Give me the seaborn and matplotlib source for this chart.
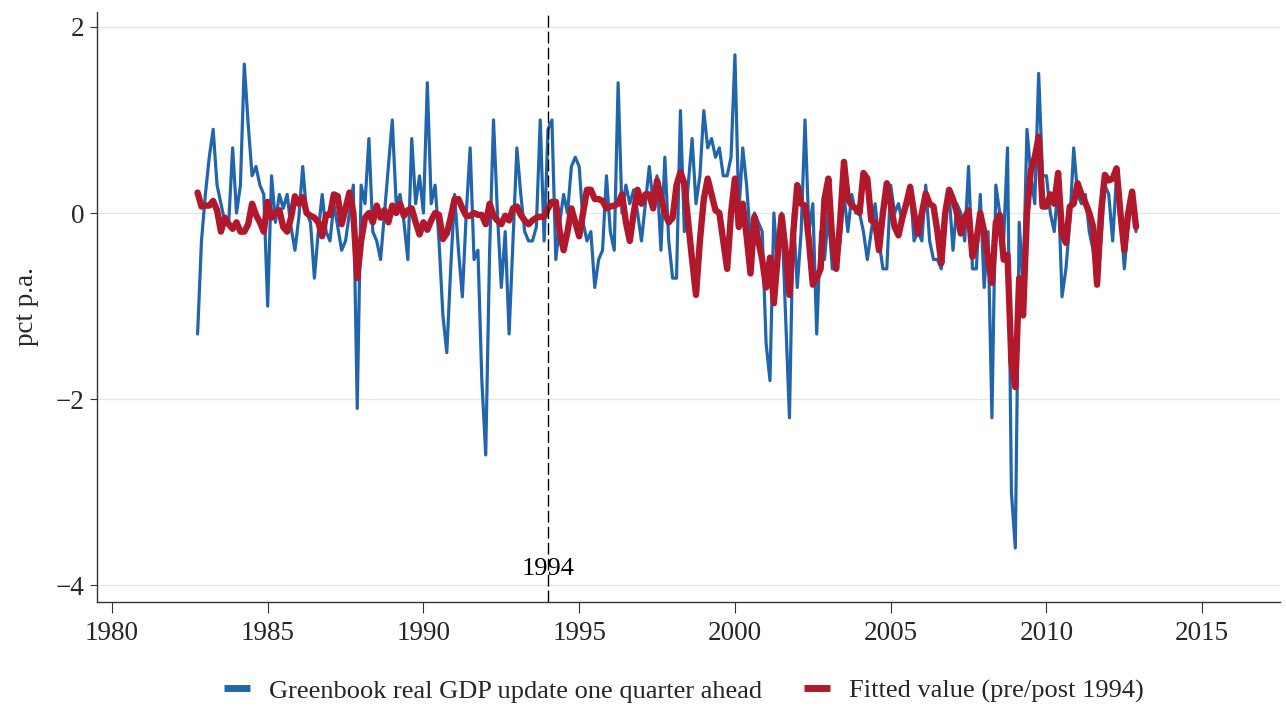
import numpy as np
import pandas as pd
import matplotlib
matplotlib.use("Agg")
import matplotlib.pyplot as plt
import seaborn as sns

# ---------------- data ----------------
start_year = 1982.75          # first Greenbook observation
per_year = 8                  # FOMC meetings per year

greenbook_update = [
    -1.3, -0.3, 0.2, 0.6, 0.9, 0.3, 0.1, -0.1, -0.1, 0.7,
    0.0, 0.3, 1.6, 0.95, 0.4, 0.5, 0.3, 0.2, -1.0, 0.4,
    -0.1, 0.2, 0.05, 0.2, -0.15, -0.4, -0.05, 0.5, 0.0, -0.1,
    -0.7, -0.2, 0.2, -0.2, -0.3, 0.1, -0.15, -0.4, -0.3, 0.0,
    0.3, -2.1, 0.3, 0.1, 0.8, -0.2, -0.3, -0.5, 0.0, 0.5,
    1.0, 0.1, 0.2, -0.1, -0.5, 0.8, 0.1, 0.4, 0.0, 1.4,
    0.1, 0.3, -0.3, -1.1, -1.5, -0.6, 0.2, -0.4, -0.9, 0.0,
    0.7, -0.5, -0.4, -1.8, -2.6, -0.4, 1.0, 0.0, -0.8, -0.2,
    -1.3, -0.3, 0.7, 0.2, -0.2, -0.3, -0.3, -0.15, 1.0, -0.3,
    0.9, 1.0, -0.5, -0.1, 0.2, 0.0, 0.5, 0.6, 0.5, -0.1,
    -0.3, -0.2, -0.8, -0.5, -0.4, 0.4, -0.2, -0.4, 1.4, 0.0,
    0.3, 0.1, 0.25, 0.0, -0.3, 0.1, 0.5, 0.1, 0.4, -0.4,
    0.6, -0.3, -0.7, -0.7, 1.1, -0.2, 0.3, 0.8, 0.1, 0.4,
    1.1, 0.7, 0.8, 0.6, 0.7, 0.4, 0.4, 0.6, 1.7, 0.0,
    0.7, 0.3, -0.3, 0.0, -0.1, -0.2, -1.4, -1.8, 0.0, -0.6,
    0.0, -1.1, -2.2, 0.0, -0.8, -0.2, 1.0, -0.2, 0.1, -1.3,
    -0.2, -0.5, 0.0, -0.6, -0.6, -0.3, 0.2, -0.2, 0.2, 0.0,
    0.0, -0.2, -0.5, -0.2, 0.1, -0.3, -0.6, -0.6, 0.3, 0.0,
    0.1, -0.1, 0.1, 0.3, -0.3, -0.2, -0.3, 0.3, -0.3, -0.5,
    -0.5, -0.6, 0.0, 0.2, -0.4, 0.1, 0.0, -0.3, 0.5, -0.6,
    -0.6, 0.2, -0.8, -0.2, -2.2, 0.3, 0.0, -0.3, 0.7, -3.0,
    -3.6, -0.1, -0.8, 0.9, 0.4, 0.1, 1.5, 0.4, 0.4, 0.0,
    -0.2, 0.3, -0.9, -0.6, -0.1, 0.7, 0.2, 0.1, 0.2, -0.2,
    -0.4, -0.7, -0.3, 0.3, 0.2, -0.3, 0.4, 0.0, -0.6, -0.1,
    0.2, -0.2,
]

fitted_value = [
    0.22, 0.07, 0.08, 0.08, 0.13, 0.03, -0.2, -0.05, -0.12, -0.17,
    -0.1, -0.2, -0.2, -0.12, 0.1, -0.02, -0.1, -0.2, 0.12, -0.05,
    0.0, 0.03, -0.15, -0.2, -0.05, 0.18, 0.1, 0.17, 0.0, -0.03,
    -0.05, -0.1, -0.25, -0.02, -0.02, 0.2, 0.18, -0.12, 0.05, 0.22,
    0.0, -0.7, -0.3, -0.05, 0.0, -0.1, 0.08, -0.05, 0.03, -0.1,
    0.08, 0.0, 0.1, -0.03, 0.03, 0.05, -0.1, -0.23, -0.1, -0.18,
    -0.08, 0.0, -0.02, -0.28, -0.22, -0.05, 0.15, 0.15, 0.05, -0.03,
    -0.03, 0.0, -0.02, -0.02, -0.12, 0.1, -0.03, -0.08, -0.12, -0.03,
    -0.08, 0.05, 0.07, -0.02, -0.08, -0.12, -0.08, -0.05, -0.04, -0.04,
    0.05, 0.12, 0.12, -0.2, -0.4, -0.2, 0.05, -0.1, -0.25, 0.0,
    0.25, 0.25, 0.15, 0.15, 0.13, 0.05, 0.07, 0.08, 0.1, 0.2,
    -0.1, -0.3, 0.0, 0.25, 0.1, 0.2, 0.2, 0.05, 0.35, 0.17,
    0.0, -0.1, -0.05, 0.3, 0.44, 0.32, -0.1, -0.5, -0.88, -0.3,
    0.15, 0.37, 0.2, 0.03, 0.0, -0.3, -0.6, 0.0, 0.37, -0.15,
    0.1, -0.25, -0.65, -0.04, -0.3, -0.5, -0.8, -0.48, -0.97, -0.45,
    -0.03, -0.4, -0.88, -0.2, 0.3, 0.1, 0.08, -0.3, -0.77, -0.7,
    -0.6, 0.15, 0.37, -0.3, -0.6, -0.1, 0.55, 0.15, 0.08, 0.05,
    0.0, 0.43, 0.37, -0.08, -0.1, -0.4, 0.0, 0.32, 0.1, -0.15,
    -0.24, -0.05, 0.1, 0.28, 0.0, -0.22, 0.0, 0.21, 0.1, 0.07,
    -0.2, -0.54, 0.0, 0.25, 0.15, 0.0, -0.22, -0.05, 0.03, -0.47,
    -0.3, 0.0, -0.2, -0.5, -0.75, -0.1, -0.02, -0.5, -0.45, -1.6,
    -1.87, -0.7, -1.1, 0.0, 0.46, 0.6, 0.82, 0.07, 0.07, 0.2,
    0.1, 0.43, -0.22, -0.32, 0.07, 0.1, 0.32, 0.2, 0.11, 0.0,
    -0.15, -0.77, 0.0, 0.41, 0.35, 0.37, 0.48, 0.0, -0.4, 0.0,
    0.23, -0.15,
]

break_year = 1994
x_ticks = [1980, 1985, 1990, 1995, 2000, 2005, 2010, 2015]
y_ticks = [-4, -2, 0, 2]
label_blue = "Greenbook real GDP update one quarter ahead"
label_red = "Fitted value (pre/post 1994)"
y_label = "pct p.a."

# ---------------- frame ----------------
df_blue = pd.DataFrame({"date": start_year + np.arange(len(greenbook_update)) / per_year,
                        "value": greenbook_update})
df_red = pd.DataFrame({"date": start_year + np.arange(len(fitted_value)) / per_year,
                       "value": fitted_value})

sns.set_theme(style="white")
plt.rcParams["font.family"] = ["Liberation Serif", "DejaVu Serif"]
plt.rcParams["axes.unicode_minus"] = True

fig = plt.figure(figsize=(12.86, 7.07), dpi=100)
ax = fig.add_axes([0.0754, 0.1485, 0.9200, 0.8345])

blue = "#2166ac"
red = "#b2182b"

sns.lineplot(data=df_blue, x="date", y="value", ax=ax, color=blue, lw=2.3,
             label=label_blue, zorder=3)
sns.lineplot(data=df_red, x="date", y="value", ax=ax, color=red, lw=4.6,
             label=label_red, zorder=4, solid_capstyle="round", solid_joinstyle="round")

ax.axvline(break_year, color="black", lw=1.0, ls=(0, (8.5, 3)), zorder=5)
ax.text(break_year, -3.83, str(break_year), ha="center", va="center",
        fontsize=19, color="black", zorder=6)

ax.set_xlim(1979.52, 2017.5)
ax.set_ylim(-4.18, 2.16)
ax.set_xticks(x_ticks)
ax.set_yticks(y_ticks)
ax.set_xticklabels([str(t) for t in x_ticks], fontsize=19.5)
ax.set_yticklabels([str(t).replace("-", "\u2212") for t in y_ticks], fontsize=19.5)
ax.set_xlabel("")
ax.set_ylabel(y_label, fontsize=19.5, labelpad=12)

ax.yaxis.grid(True, color="#e6e6e6", lw=1.0)
ax.xaxis.grid(False)
ax.set_axisbelow(True)

for s in ["top", "right"]:
    ax.spines[s].set_visible(False)
for s in ["left", "bottom"]:
    ax.spines[s].set_color("#333333")
    ax.spines[s].set_linewidth(1.0)

ax.tick_params(axis="x", which="major", direction="out", length=8, width=0.8,
               color="#333333", pad=6, bottom=True)
ax.tick_params(axis="y", which="major", direction="out", length=5, width=0.8,
               color="#333333", pad=4, left=True)

leg = ax.legend(loc="center", bbox_to_anchor=(0.496, -0.151), ncol=2, frameon=False,
                fontsize=19, handlelength=1.0, handletextpad=0.7, columnspacing=1.6)
for h in leg.get_lines():
    h.set_linewidth(5)
    h.set_solid_capstyle("butt")

fig.savefig("out.png", dpi=100, facecolor="white")
